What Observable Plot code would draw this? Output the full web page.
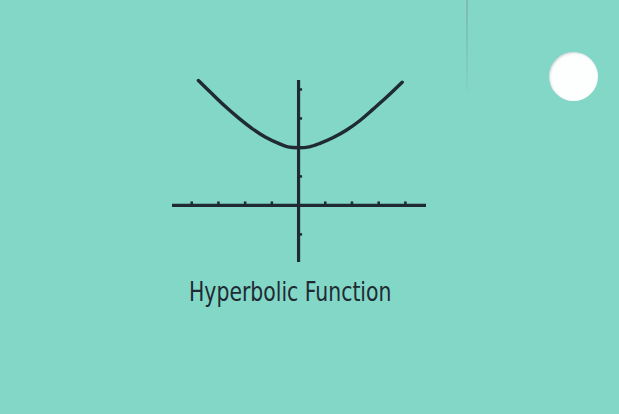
<!DOCTYPE html>
<html>
<head>
<meta charset="utf-8">
<script src="https://cdn.jsdelivr.net/npm/d3@7"></script>
<script src="https://cdn.jsdelivr.net/npm/@observablehq/plot@0.6"></script>
<style>
  html, body { margin: 0; padding: 0; }
  body { width: 619px; height: 414px; background: #82d7c6; position: relative; overflow: hidden; }
  #chart svg { display: block; background: transparent; }
  #title { font-family: "DejaVu Sans Condensed", "DejaVu Sans", sans-serif; font-size: 27px; color: #1f2a33;
           margin-top: 6px; margin-left: 189px; display: inline-block; white-space: nowrap;
           transform: scaleX(0.84); transform-origin: 0 50%; }
  #hole { position: absolute; left: 549px; top: 52px; width: 49px; height: 49px; border-radius: 50%;
          background: #fdfefe; box-shadow: inset 1px 1px 2px rgba(120,140,140,0.35); }
  #crease { position: absolute; left: 466px; top: 0; width: 1.5px; height: 90px;
            background: linear-gradient(#7a98a8, rgba(122,152,168,0.15)); opacity: 0.5; }
</style>
</head>
<body>
<div id="chart"></div>
<div id="title"></div>
<div id="hole"></div>
<div id="crease"></div>
<script>
// Title
const titleText = "Hyperbolic Function";

// Window (in tick units)
const xDomain = [-4.72, 4.79];
const yDomain = [-1.97, 4.31];

// Tick marks on the axes
const xTicks = [-4, -3, -2, -1, 1, 2, 3, 4];
const yTicks = [-1, 1, 3, 4];

// Curve points (tick units)
const curveX = [-3.75, -3.25, -2.75, -2.25, -1.75, -1.25, -0.75, -0.4, 0, 0.4, 0.8, 1.3, 1.8, 2.3, 2.8, 3.3, 3.88];
const curveY = [4.31, 3.86, 3.42, 3.02, 2.66, 2.36, 2.14, 2.02, 1.99, 2.02, 2.14, 2.34, 2.60, 2.93, 3.33, 3.74, 4.25];

const curve = curveX.map((x, i) => ({x, y: curveY[i]}));
const ink = "#1f2a33";

const plot = Plot.plot({
  width: 619,
  height: 270,
  marginLeft: 172,
  marginRight: 193,
  marginTop: 80,
  marginBottom: 8,
  x: {domain: xDomain, axis: null},
  y: {domain: yDomain, axis: null},
  style: {background: "transparent"},
  marks: [
    Plot.ruleY([0], {x1: xDomain[0], x2: xDomain[1], stroke: ink, strokeWidth: 3.2}),
    Plot.ruleX([0], {y1: yDomain[0], y2: yDomain[1], stroke: ink, strokeWidth: 3.2}),
    Plot.ruleX(xTicks, {y1: 0, y2: 0.12, stroke: ink, strokeWidth: 2.5}),
    Plot.ruleY(yTicks, {x1: 0, x2: 0.15, stroke: ink, strokeWidth: 2.5}),
    Plot.line(curve, {x: "x", y: "y", stroke: ink, strokeWidth: 3.4, curve: "catmull-rom"})
  ]
});
document.getElementById("chart").appendChild(plot);
document.getElementById("title").textContent = titleText;
</script>
</body>
</html>
